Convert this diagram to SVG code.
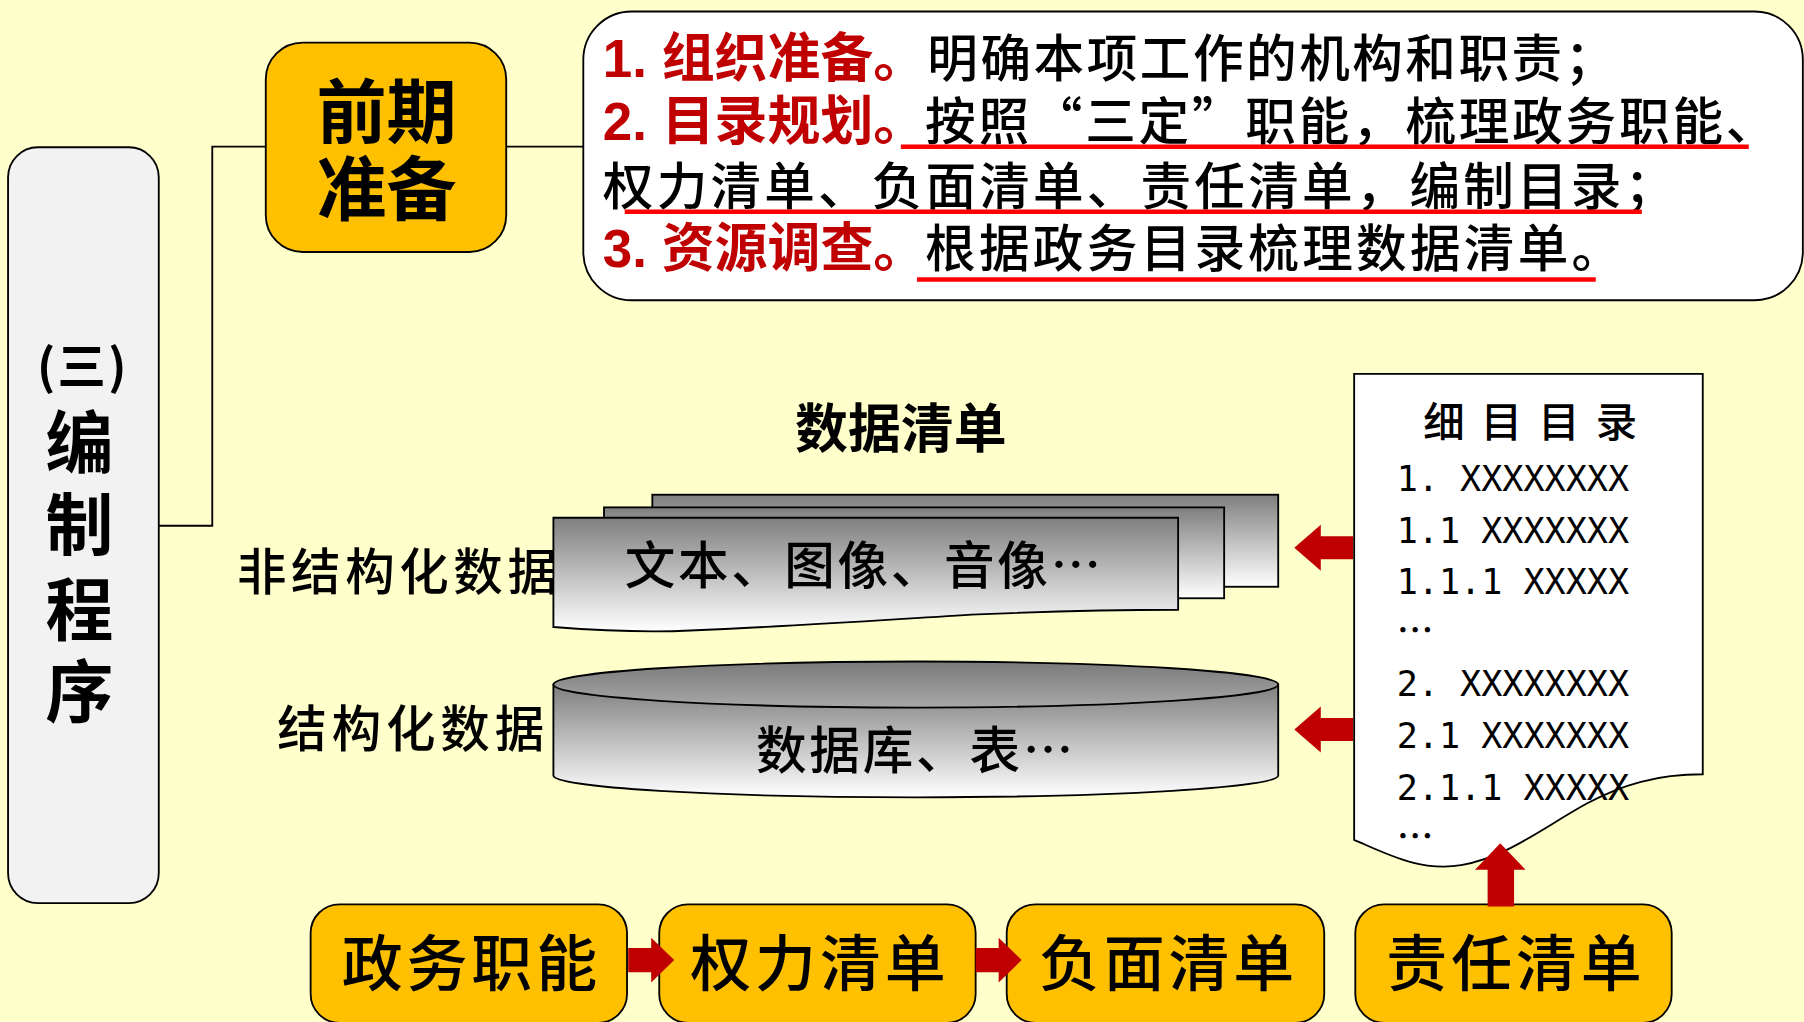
<svg xmlns="http://www.w3.org/2000/svg" width="1804" height="1022" viewBox="0 0 1804 1022">
<style>
.frame{stroke:#000;stroke-width:1.6}
.orange{fill:#FFC000}
.hd{font-family:"Noto Sans CJK SC",sans-serif;font-weight:700;fill:#000}
.kai{font-family:"Noto Sans CJK SC",sans-serif;font-weight:500;fill:#000}
.red{font-family:"Liberation Sans","Noto Sans CJK SC",sans-serif;font-weight:700;fill:#C00000}
.ul{stroke:#FF0000;stroke-width:4;fill:none}
.arrow{fill:#C00000}
.mono{font-family:"DejaVu Sans Mono","Liberation Mono",monospace;fill:#000}
.conn{fill:none;stroke:#000;stroke-width:1.6}
</style>
<defs>
<linearGradient id="sheet" x1="0" y1="0" x2="0" y2="1">
<stop offset="0" stop-color="#7F7F7F"/>
<stop offset="1" stop-color="#FFFFFF"/>
</linearGradient>
<linearGradient id="cylTop" x1="0" y1="0" x2="0" y2="1">
<stop offset="0" stop-color="#7A7A7A"/>
<stop offset="1" stop-color="#A8A8A8"/>
</linearGradient>
</defs>
<rect x="0" y="0" width="1804" height="1022" fill="#FFFFCC"/>
<g transform="scale(1.15051)">
<g id="connectors">
<polyline class="conn" points="138,457 184.5,457 184.5,127.5 231,127.5"/>
<line class="conn" x1="440" y1="127.5" x2="507" y2="127.5"/>
<polygon class="arrow" points="1125,476 1148,456 1148,466 1176,466 1176,486 1148,486 1148,496"/>
<polygon class="arrow" points="1125,634 1148,614 1148,624 1176,624 1176,644 1148,644 1148,654"/>
</g>
<g id="node-bianzhi">
<rect class="frame" x="7" y="128" width="131" height="657" rx="26" fill="#F2F2F2"/>
<text class="hd" x="72" y="334" font-size="42" text-anchor="middle" letter-spacing="2">(三)</text>
<text class="hd" x="69" y="407" font-size="59" text-anchor="middle">编</text>
<text class="hd" x="69" y="478" font-size="59" text-anchor="middle">制</text>
<text class="hd" x="69" y="552" font-size="59" text-anchor="middle">程</text>
<text class="hd" x="69" y="623" font-size="59" text-anchor="middle">序</text>
</g>
<g id="node-qianqi">
<rect class="frame orange" x="231" y="37" width="209" height="182" rx="32"/>
<text class="hd" x="336" y="120" font-size="61" text-anchor="middle">前期</text>
<text class="hd" x="336" y="187" font-size="61" text-anchor="middle">准备</text>
</g>
<g id="node-steps">
<rect class="frame" x="507" y="10" width="1060" height="251" rx="42" fill="#FFFFFF"/>
<text class="red" x="524" y="67" font-size="46">1. 组织准备。</text>
<text class="kai" x="806" y="67" font-size="44" textLength="598" lengthAdjust="spacing">明确本项工作的机构和职责；</text>
<text class="red" x="524" y="122" font-size="46">2. 目录规划。</text>
<text class="kai" x="804" y="122" font-size="44" textLength="740" lengthAdjust="spacing">按照“三定”职能，梳理政务职能、</text>
<text class="kai" x="524" y="178" font-size="44" textLength="932" lengthAdjust="spacing">权力清单、负面清单、责任清单，编制目录；</text>
<text class="red" x="524" y="232" font-size="46">3. 资源调查。</text>
<text class="kai" x="804" y="232" font-size="44" textLength="606" lengthAdjust="spacing">根据政务目录梳理数据清单。</text>
<line class="ul" x1="783" y1="127.5" x2="1520" y2="127.5"/>
<line class="ul" x1="543" y1="184" x2="1427" y2="184"/>
<line class="ul" x1="797" y1="243" x2="1387" y2="243"/>
</g>
<g id="title-shuju">
<text class="hd" x="783" y="389" font-size="46" text-anchor="middle">数据清单</text>
</g>
<g id="label-unstructured">
<text class="kai" x="206" y="513" font-size="43" textLength="278" lengthAdjust="spacing">非结构化数据</text>
</g>
<g id="node-documents">
<rect class="frame" x="567" y="430" width="544" height="80" fill="url(#sheet)"/>
<rect class="frame" x="525" y="441" width="539" height="79" fill="url(#sheet)"/>
<path class="frame" d="M481,450 H1024 V530 C970,530 920,531 850,534 C780,538 700,544 600,548 C560,550 520,548 481,545 Z" fill="url(#sheet)"/>
<text class="kai" x="543" y="508" font-size="44" textLength="414" lengthAdjust="spacing">文本、图像、音像…</text>
</g>
<g id="label-structured">
<text class="kai" x="241" y="649" font-size="43" textLength="232" lengthAdjust="spacing">结构化数据</text>
</g>
<g id="node-database">
<path class="frame" d="M481,595 V674 A315,19 0 0 0 1111,674 V595 Z" fill="url(#sheet)"/>
<ellipse class="frame" cx="796" cy="595" rx="315" ry="20" fill="url(#cylTop)"/>
<text class="kai" x="657" y="668" font-size="44" textLength="276" lengthAdjust="spacing">数据库、表…</text>
</g>
<g id="node-catalog">
<path class="frame" d="M1177,325 H1480 V673 C1440,673 1410,682 1380,698 C1340,720 1310,745 1270,752 C1235,758 1205,742 1177,730 Z" fill="#FFFFFF"/>
<text class="kai" x="1237" y="380" font-size="36" textLength="186" lengthAdjust="spacing">细目目录</text>
<text class="mono" x="1214" y="427" font-size="30.5">1. XXXXXXXX</text>
<text class="mono" x="1214" y="472" font-size="30.5">1.1 XXXXXXX</text>
<text class="mono" x="1214" y="516" font-size="30.5">1.1.1 XXXXX</text>
<text class="kai" x="1214" y="560" font-size="32">…</text>
<text class="mono" x="1214" y="605" font-size="30.5">2. XXXXXXXX</text>
<text class="mono" x="1214" y="650" font-size="30.5">2.1 XXXXXXX</text>
<text class="mono" x="1214" y="695" font-size="30.5">2.1.1 XXXXX</text>
<text class="kai" x="1214" y="739" font-size="32">…</text>
</g>
<g id="node-zhengwu">
<rect class="frame orange" x="270" y="786" width="275" height="103" rx="25"/>
<text class="kai" x="297" y="857" font-size="53" textLength="222" lengthAdjust="spacing">政务职能</text>
</g>
<g id="node-quanli">
<rect class="frame orange" x="573" y="786" width="275" height="103" rx="25"/>
<text class="kai" x="600" y="857" font-size="53" textLength="222" lengthAdjust="spacing">权力清单</text>
</g>
<g id="node-fumian">
<rect class="frame orange" x="875" y="786" width="276" height="103" rx="25"/>
<text class="kai" x="903" y="857" font-size="53" textLength="222" lengthAdjust="spacing">负面清单</text>
</g>
<g id="node-zeren">
<rect class="frame orange" x="1178" y="786" width="275" height="103" rx="25"/>
<text class="kai" x="1205" y="857" font-size="53" textLength="222" lengthAdjust="spacing">责任清单</text>
</g>
<g id="flow-arrows">
<polygon class="arrow" points="546,824 566,824 566,815 586,834.5 566,854 566,845 546,845"/>
<polygon class="arrow" points="848,824 868,824 868,815 888,834.5 868,854 868,845 848,845"/>
<polygon class="arrow" points="1304,733 1326,756 1316,756 1316,788 1293,788 1293,756 1282,756"/>
</g>
</g>
</svg>
